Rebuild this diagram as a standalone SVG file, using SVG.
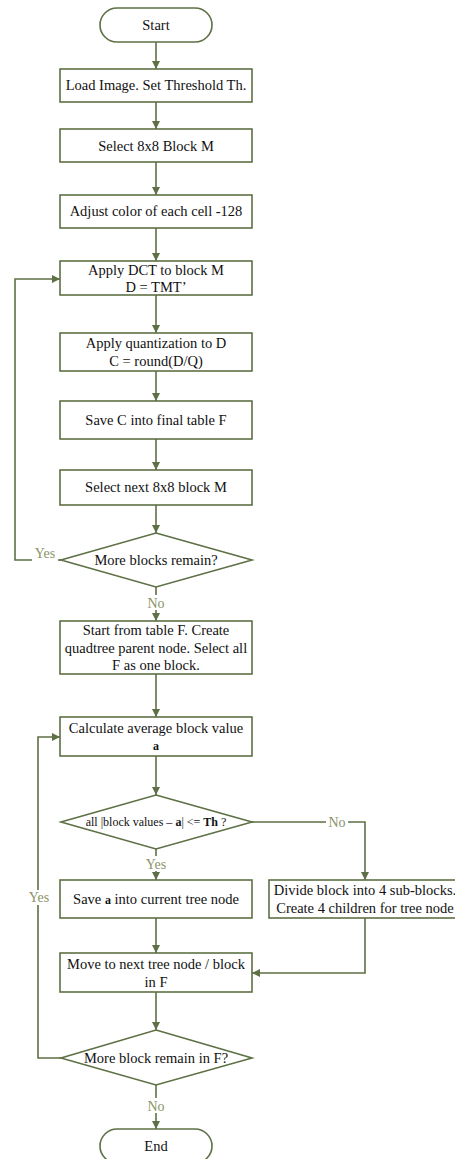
<svg xmlns="http://www.w3.org/2000/svg" width="455" height="1159" viewBox="0 0 455 1159" font-family="'Liberation Serif', 'DejaVu Serif', serif">
<defs>
<marker id="ah" markerWidth="8" markerHeight="8" refX="8" refY="4" orient="auto" markerUnits="userSpaceOnUse">
<path d="M0,0 L8,4 L0,8 Z" fill="#5e7045"/>
</marker>
<style>
.s{fill:#fff;stroke:#5e7045;stroke-width:1.6}
.c{fill:none;stroke:#5e7045;stroke-width:1.6}
text{font-family:'Liberation Serif',serif;font-size:14.5px;fill:#111;text-anchor:middle}
.l{fill:#8a9466;font-size:14px}
.sm{font-size:12px}
</style>
</defs>
<rect width="455" height="1159" fill="#fff"/>
<g id="connectors">
<path class="c" d="M156,42 V69" marker-end="url(#ah)"/>
<path class="c" d="M156,102 V129" marker-end="url(#ah)"/>
<path class="c" d="M156,162 V195" marker-end="url(#ah)"/>
<path class="c" d="M156,228 V261" marker-end="url(#ah)"/>
<path class="c" d="M156,295 V333" marker-end="url(#ah)"/>
<path class="c" d="M156,371 V401" marker-end="url(#ah)"/>
<path class="c" d="M156,439 V470" marker-end="url(#ah)"/>
<path class="c" d="M156,505 V533" marker-end="url(#ah)"/>
<path class="c" d="M61,560 H15 V279 H60" marker-end="url(#ah)"/>
<path class="c" d="M156,587 V621" marker-end="url(#ah)"/>
<path class="c" d="M156,674 V717" marker-end="url(#ah)"/>
<path class="c" d="M156,756 V795" marker-end="url(#ah)"/>
<path class="c" d="M252,822 H365 V880" marker-end="url(#ah)"/>
<path class="c" d="M156,849 V880" marker-end="url(#ah)"/>
<path class="c" d="M156,918 V953" marker-end="url(#ah)"/>
<path class="c" d="M365,918 V973 H252" marker-end="url(#ah)"/>
<path class="c" d="M156,992 V1030" marker-end="url(#ah)"/>
<path class="c" d="M61,1058 H38 V737 H60" marker-end="url(#ah)"/>
<path class="c" d="M156,1085 V1129" marker-end="url(#ah)"/>
<rect x="32" y="548" width="26" height="14" fill="#fff"/>
<text class="l" x="45" y="558">Yes</text>
<rect x="145" y="595" width="22" height="15" fill="#fff"/>
<text class="l" x="156" y="608">No</text>
<rect x="326" y="815" width="22" height="15" fill="#fff"/>
<text class="l" x="337" y="827">No</text>
<rect x="142" y="856" width="28" height="15" fill="#fff"/>
<text class="l" x="156" y="869">Yes</text>
<rect x="25" y="890" width="28" height="15" fill="#fff"/>
<text class="l" x="39" y="902">Yes</text>
<rect x="145" y="1098" width="22" height="15" fill="#fff"/>
<text class="l" x="156" y="1111">No</text>
</g>
<g id="start"><rect class="s" x="100" y="8" width="112" height="34" rx="17"/><text x="156" y="30">Start</text></g>
<g id="load"><rect class="s" x="60" y="69" width="192" height="33"/><text x="156" y="90">Load Image. Set Threshold Th.</text></g>
<g id="select"><rect class="s" x="60" y="129" width="192" height="33"/><text x="156" y="151">Select 8x8 Block M</text></g>
<g id="adjust"><rect class="s" x="60" y="195" width="192" height="33"/><text x="156" y="216">Adjust color of each cell -128</text></g>
<g id="dct"><rect class="s" x="60" y="261" width="192" height="34"/><text x="156" y="275">Apply DCT to block M</text><text x="156" y="292">D = TMT’</text></g>
<g id="quant"><rect class="s" x="60" y="333" width="192" height="38"/><text x="156" y="348">Apply quantization to D</text><text x="156" y="366">C = round(D/Q)</text></g>
<g id="savec"><rect class="s" x="60" y="401" width="192" height="38"/><text x="156" y="425">Save C into final table F</text></g>
<g id="next"><rect class="s" x="60" y="470" width="192" height="35"/><text x="156" y="492">Select next 8x8 block M</text></g>
<g id="more"><path class="s" d="M156,533 L252,560 L156,587 L61,560 Z"/><text x="156" y="565">More blocks remain?</text></g>
<g id="startf"><rect class="s" x="60" y="621" width="192" height="53"/><text x="156" y="635">Start from table F. Create</text><text x="156" y="653">quadtree parent node. Select all</text><text x="156" y="670">F as one block.</text></g>
<g id="calc"><rect class="s" x="60" y="717" width="192" height="39"/><text x="156" y="733">Calculate average block value</text><text x="156" y="750" font-weight="bold" style="font-size:12px">a</text></g>
<g id="check"><path class="s" d="M156,795 L252,822 L156,849 L61,822 Z"/><text class="sm" x="156" y="826">all |block values – <tspan font-weight="bold">a</tspan>| &lt;= <tspan font-weight="bold">Th</tspan> ?</text></g>
<g id="savea"><rect class="s" x="60" y="880" width="192" height="38"/><text x="156" y="904">Save <tspan font-weight="bold" style="font-size:12px">a</tspan> into current tree node</text></g>
<g id="divide"><rect class="s" x="269" y="880" width="192" height="38"/><text x="365" y="895">Divide block into 4 sub-blocks.</text><text x="365" y="913">Create 4 children for tree node</text></g>
<g id="move"><rect class="s" x="60" y="953" width="192" height="39"/><text x="156" y="969">Move to next tree node / block</text><text x="156" y="987">in F</text></g>
<g id="more2"><path class="s" d="M156,1030 L252,1058 L156,1085 L61,1058 Z"/><text x="156" y="1063">More block remain in F?</text></g>
<g id="end"><rect class="s" x="100" y="1129" width="112" height="34" rx="17"/><text x="156" y="1151">End</text></g>
</svg>
